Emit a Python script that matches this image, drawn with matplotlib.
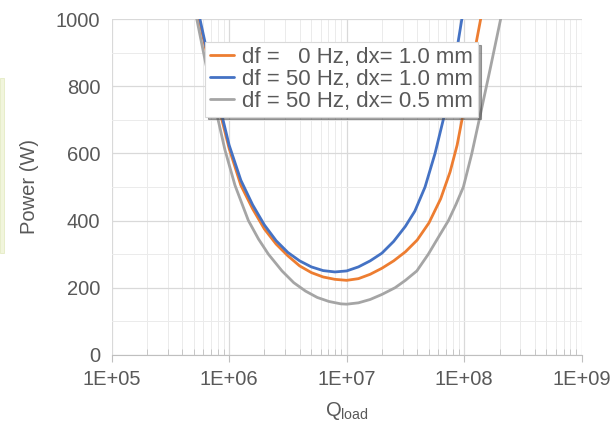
import math
import matplotlib
matplotlib.use("Agg")
import matplotlib.pyplot as plt
from matplotlib.ticker import LogLocator, NullFormatter, FuncFormatter, MultipleLocator
from matplotlib.patches import Rectangle

plt.rcParams['font.family'] = ['Liberation Sans', 'DejaVu Sans']

# values (log10 of Q_load, power in W)
logq_orange = [5.70, 5.745, 5.83, 5.91, 6.00, 6.10, 6.20, 6.30, 6.40, 6.50, 6.60, 6.70, 6.80, 6.90,
               7.00, 7.10, 7.20, 7.30, 7.40, 7.50, 7.60, 7.70, 7.80, 7.88, 7.94, 8.00, 8.07, 8.14, 8.16]
p_orange = [1070, 1000, 866, 740, 615, 505, 435, 375, 330, 295, 265, 245, 232, 225,
            222, 227, 240, 258, 280, 307, 342, 393, 465, 545, 625, 735, 870, 1000, 1040]

logq_blue = [5.70, 5.752, 5.83, 5.917, 6.00, 6.10, 6.20, 6.30, 6.40, 6.50, 6.60, 6.70, 6.80, 6.90,
             7.00, 7.10, 7.20, 7.30, 7.40, 7.50, 7.58, 7.667, 7.752, 7.83, 7.91, 7.98, 8.00]
p_blue = [1085, 1000, 875, 745, 625, 520, 447, 387, 340, 305, 280, 262, 251, 247,
          250, 262, 280, 303, 338, 383, 428, 500, 600, 712, 850, 1000, 1045]

logq_gray = [5.68, 5.725, 5.80, 5.889, 5.965, 6.05, 6.164, 6.25, 6.334, 6.45, 6.55, 6.65, 6.75, 6.85,
             6.95, 7.00, 7.10, 7.20, 7.30, 7.412, 7.50, 7.597, 7.695, 7.78, 7.866, 7.93, 7.993,
             8.065, 8.14, 8.22, 8.31, 8.33]
p_gray = [1070, 1000, 870, 727, 610, 505, 400, 345, 300, 250, 215, 190, 171, 159,
          152, 151, 155, 165, 180, 200, 222, 250, 300, 350, 400, 448, 500,
          600, 720, 850, 1000, 1035]

labels = ["df =   0 Hz, dx= 1.0 mm", "df = 50 Hz, dx= 1.0 mm", "df = 50 Hz, dx= 0.5 mm"]
colors = ["#ED7D31", "#4472C4", "#A5A5A5"]

fig = plt.figure(figsize=(6.13, 4.25), dpi=100)
ax = fig.add_axes([0.182, 0.165, 0.767, 0.790])

# pale decoration at left edge
fig.patches.append(Rectangle((0, 1 - 253/425), 4/613, (253-78)/425, transform=fig.transFigure,
                             facecolor="#F1F5DC", edgecolor="#E4EBC4", lw=0.6))

for lq, p, c, lab in zip([logq_orange, logq_blue, logq_gray], [p_orange, p_blue, p_gray], colors, labels):
    q = [10 ** v for v in lq]
    ax.plot(q, p, color=c, lw=2.0, label=lab, solid_capstyle='round', solid_joinstyle='round')

ax.set_xscale('log')
ax.set_xlim(1e5, 1e9)
ax.set_ylim(0, 1000)
ax.xaxis.set_major_locator(LogLocator(base=10, numticks=10))
ax.xaxis.set_minor_locator(LogLocator(base=10, subs=range(2, 10), numticks=20))
ax.xaxis.set_minor_formatter(NullFormatter())
ax.xaxis.set_major_formatter(FuncFormatter(lambda v, pos: "1E+%02d" % round(math.log10(v))))
ax.yaxis.set_major_locator(MultipleLocator(200))
ax.yaxis.set_minor_locator(MultipleLocator(100))

ax.grid(True, which='major', color='#D9D9D9', lw=0.9)
ax.grid(True, which='minor', color='#EBEBEB', lw=0.7)
ax.set_axisbelow(True)

for s in ['top', 'right', 'left']:
    ax.spines[s].set_visible(False)
ax.spines['bottom'].set_color('#BFBFBF')
ax.tick_params(axis='x', which='major', direction='out', length=5, color='#BFBFBF', labelsize=14.5, labelcolor='#595959', pad=6)
ax.tick_params(axis='x', which='minor', direction='in', length=4, color='#BFBFBF')
ax.tick_params(axis='y', which='both', length=0, labelsize=14.5, labelcolor='#595959', pad=8)

ax.set_ylabel("Power (W)", fontsize=14.5, color='#595959', labelpad=12)
ax.set_xlabel("Q$_{\\mathregular{load}}$", fontsize=14.5, color='#595959', labelpad=8)

leg = ax.legend(loc='upper left', bbox_to_anchor=(0.199, 0.932), fontsize=16, frameon=True,
                fancybox=False, shadow=True, handlelength=1.1, handletextpad=0.35,
                borderpad=0.22, labelspacing=0.04, borderaxespad=0)
leg.get_frame().set_edgecolor('#D9D9D9')
leg.get_frame().set_linewidth(0.8)
for t in leg.get_texts():
    t.set_color('#595959')

fig.savefig("out.png", dpi=100)
